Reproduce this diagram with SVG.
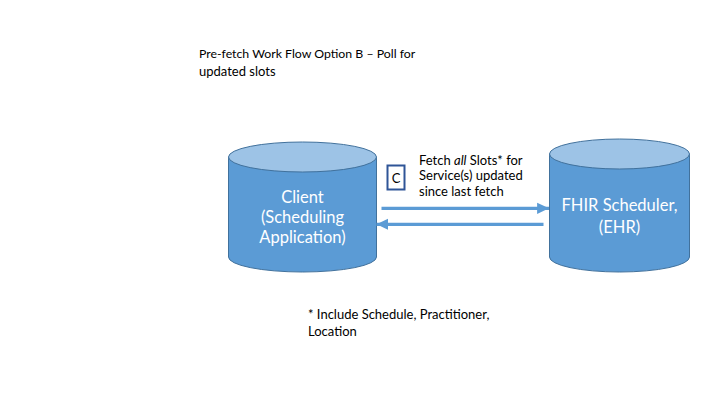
<svg xmlns="http://www.w3.org/2000/svg" width="720" height="405" viewBox="0 0 720 405">
<style>
.body{fill:#5B9BD5;stroke:#41719C;stroke-width:1}
.top{fill:#9DC3E6;stroke:#41719C;stroke-width:1}
.lbl{font-family:Lato,"Open Sans","Liberation Sans",sans-serif;fill:#FFFFFF;font-size:16.5px;text-anchor:middle}
.txt{font-family:Lato,"Open Sans","Liberation Sans",sans-serif;fill:#000000;font-size:13px}
.ttl{font-size:12.3px}
.arr{stroke:#5B9BD5;stroke-width:3.3;fill:none}
</style>
<defs>
<marker id="ah" markerWidth="4" markerHeight="4" refX="3.6" refY="2" orient="auto" markerUnits="strokeWidth">
<path d="M0,0.3 L3.6,2 L0,3.7 Z" fill="#5B9BD5"/>
</marker>
</defs>
<rect width="720" height="405" fill="#FFFFFF"/>
<g id="title">
<text class="txt ttl" x="199" y="58">Pre-fetch Work Flow Option B – Poll for</text>
<text class="txt" x="199" y="76">updated slots</text>
</g>
<g id="client">
<path class="body" d="M228.5,157 L228.5,257 A74,15 0 0 0 376.5,257 L376.5,157 Z"/>
<ellipse class="top" cx="302.5" cy="157" rx="74" ry="15"/>
<text class="lbl" x="302.5" y="202.5">Client</text>
<text class="lbl" x="302.5" y="222.5">(Scheduling</text>
<text class="lbl" x="302.5" y="242.5">Application)</text>
</g>
<g id="fhir">
<path class="body" d="M549.5,154 L549.5,257 A70,15 0 0 0 689.5,257 L689.5,154 Z"/>
<ellipse class="top" cx="619.5" cy="154" rx="70" ry="15"/>
<text class="lbl" x="619.5" y="211">FHIR Scheduler,</text>
<text class="lbl" x="619.5" y="232.5">(EHR)</text>
</g>
<g id="c-box">
<rect x="387.5" y="165.5" width="17" height="24" fill="#FFFFFF" stroke="#2F5597" stroke-width="2"/>
<text x="396" y="182.5" font-family="Lato,'Open Sans','Liberation Sans',sans-serif" font-size="13" fill="#000000" text-anchor="middle">C</text>
</g>
<g id="fetch-label">
<text class="txt" x="419" y="164.5">Fetch <tspan font-style="italic">all</tspan> Slots* for</text>
<text class="txt" x="419" y="180">Service(s) updated</text>
<text class="txt" x="419" y="196">since last fetch</text>
</g>
<g id="connectors">
<line class="arr" x1="381.5" y1="208.3" x2="549" y2="208.3" marker-end="url(#ah)"/>
<line class="arr" x1="543.5" y1="224.3" x2="376.5" y2="224.3" marker-end="url(#ah)"/>
</g>
<g id="footnote">
<text class="txt" x="308" y="318.5">* Include Schedule, Practitioner,</text>
<text class="txt" x="308" y="335.5">Location</text>
</g>
</svg>
